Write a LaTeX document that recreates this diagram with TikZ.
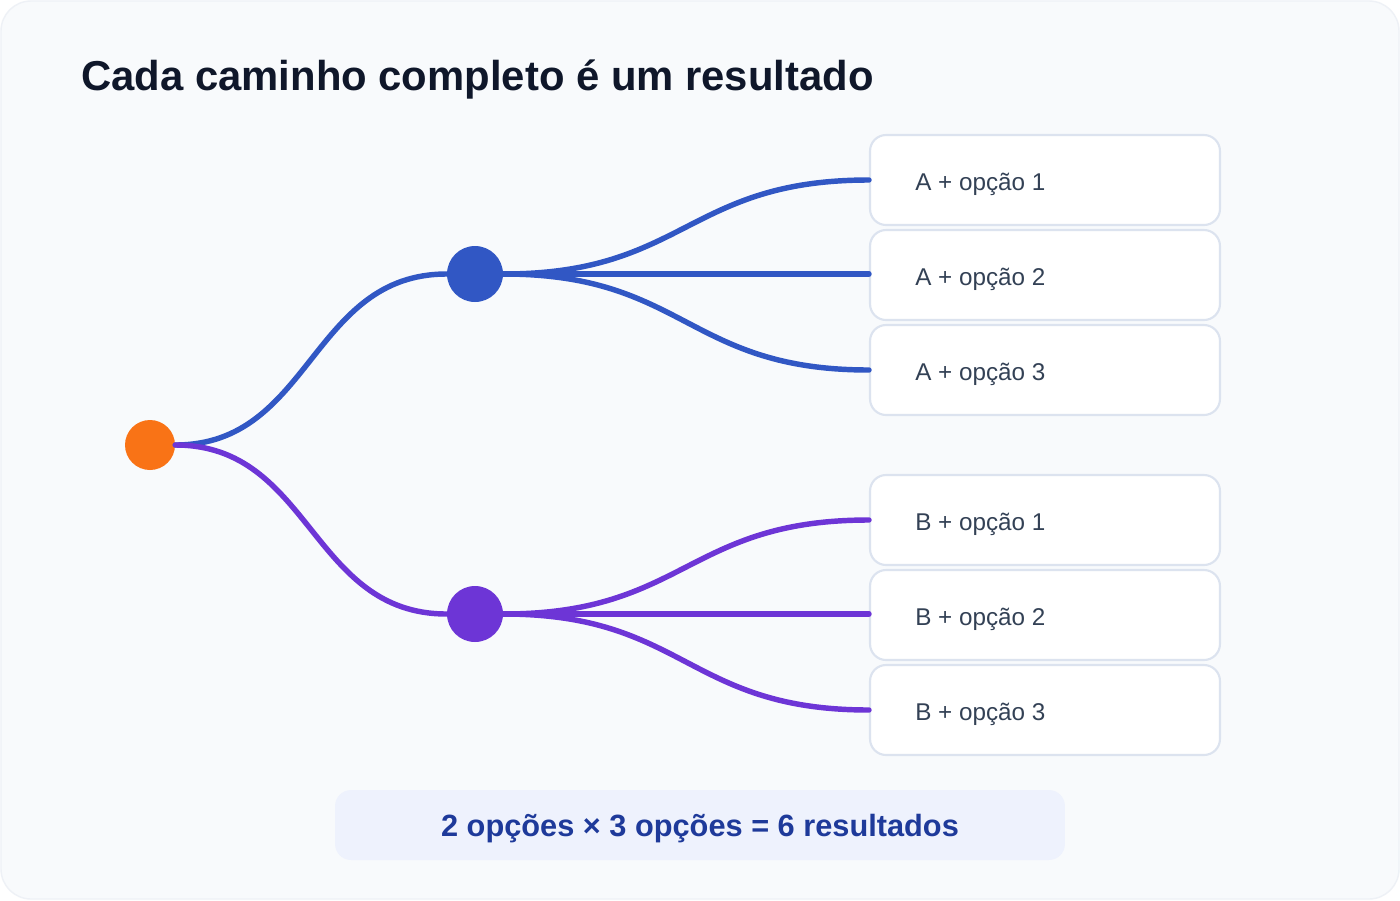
\documentclass[tikz,border=0pt]{standalone}
\usepackage{fontspec}
\setmainfont{Liberation Sans}
\definecolor{bgpage}{HTML}{F8FAFC}
\definecolor{bgedge}{HTML}{EEF1F6}
\definecolor{titlecol}{HTML}{0F172A}
\definecolor{rootcol}{HTML}{F97316}
\definecolor{acol}{HTML}{3157C4}
\definecolor{bcol}{HTML}{6D35D6}
\definecolor{boxedge}{HTML}{DCE3EF}
\definecolor{boxtext}{HTML}{334155}
\definecolor{sumfill}{HTML}{EEF2FD}
\definecolor{sumtext}{HTML}{1E3A9A}
\begin{document}
\begin{tikzpicture}[
	x=0.02cm,
	y=-0.02cm,
	line cap=round,
	line join=round,
	dot/.style={circle,inner sep=0pt,minimum size=#1},
	leaf/.style={draw=boxedge,line width=1.2pt,fill=white,rounded corners=0.32cm,
		minimum width=7cm,minimum height=1.8cm,inner sep=0pt},
	leaftext/.style={anchor=west,inner sep=0pt,text=boxtext,font=\fontsize{13.8}{16}\selectfont},
	branch/.style={line width=3.1pt}
	]
	\useasboundingbox (0,0) rectangle (1400,900);
	\fill[white] (0,0) rectangle (1400,900);
	\draw[fill=bgpage,draw=bgedge,line width=0.8pt,rounded corners=0.6cm] (1,1) rectangle (1399,899);
	\node[anchor=base west,inner sep=0pt,text=titlecol,font=\bfseries\fontsize{23.8}{28}\selectfont] (title) at (81,90) {Cada caminho completo é um resultado};
	% tree nodes
	\node[dot=1cm,fill=rootcol] (root) at (150,445) {};
	\node[dot=1.12cm,fill=acol] (nA) at (475,274) {};
	\node[dot=1.12cm,fill=bcol] (nB) at (475,614) {};
	% outcomes
	\foreach \i/\y in {1/180,2/275,3/370} {
		\node[leaf] (a\i) at (1045,\y) {};
		\node[leaftext] at (915,\y+4) {A + opção \i};
	}
	\foreach \i/\y in {1/520,2/615,3/710} {
		\node[leaf] (b\i) at (1045,\y) {};
		\node[leaftext] at (915,\y+4) {B + opção \i};
	}
	% branches
	\begin{scope}[branch,acol]
		\draw (root.east) .. controls +(136,0) and +(-136,0) .. (nA.west);
		\draw (nA.east) .. controls +(182,0) and +(-182,0) .. (a1.west);
		\draw (nA.east) -- (nA.east -| a2.west);
		\draw (nA.east) .. controls +(182,0) and +(-182,0) .. (a3.west);
	\end{scope}
	\begin{scope}[branch,bcol]
		\draw (root.east) .. controls +(136,0) and +(-136,0) .. (nB.west);
		\draw (nB.east) .. controls +(182,0) and +(-182,0) .. (b1.west);
		\draw (nB.east) -- (nB.east -| b2.west);
		\draw (nB.east) .. controls +(182,0) and +(-182,0) .. (b3.west);
	\end{scope}
	% summary
	\node[fill=sumfill,rounded corners=0.32cm,minimum width=14.6cm,minimum height=1.4cm,text depth=0pt,
		text=sumtext,font=\bfseries\fontsize{17.5}{20}\selectfont] (sum) at (700,825) {2 opções × 3 opções = 6 resultados};
\end{tikzpicture}
\end{document}
